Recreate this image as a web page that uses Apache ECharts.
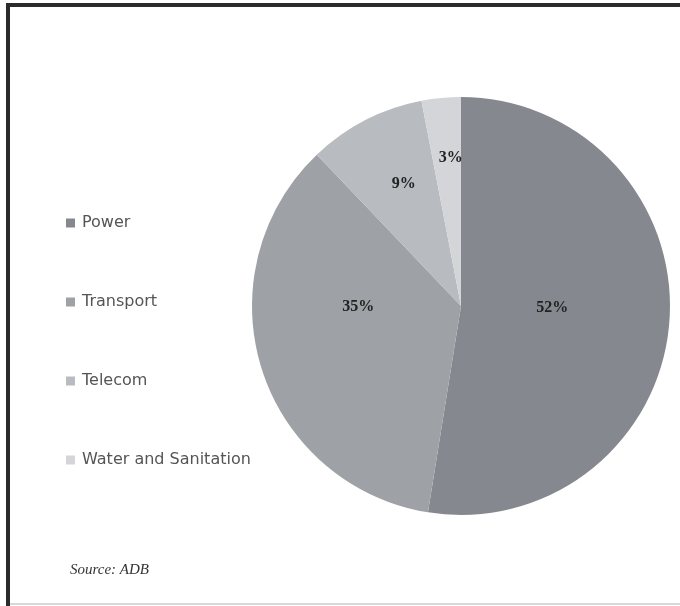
<!DOCTYPE html>
<html>
<head>
<meta charset="utf-8">
<script src="https://cdn.jsdelivr.net/npm/echarts@6/dist/echarts.min.js"></script>
<style>html,body{margin:0;padding:0;background:#fff}#c{width:680px;height:606px}</style>
</head>
<body>
<div id="c"></div>
<script>
const categories = ['Power', 'Transport', 'Telecom', 'Water and Sanitation'];
const shares = [52, 35, 9, 3];
const sliceColors = ['#85898f', '#9ea1a5', '#b8bbbf', '#d3d5d8'];
const labelOffsets = [[-16, -7], [0, -31], [-8, -27], [0, -41]];
const sourceNote = 'Source: ADB';

const chart = echarts.init(document.getElementById('c'));
chart.setOption({
  animation: false,
  backgroundColor: '#ffffff',
  legend: {
    orient: 'vertical',
    left: 61,
    top: 210,
    itemWidth: 9,
    itemHeight: 9,
    itemGap: 63,
    icon: 'rect',
    textStyle: { fontFamily: 'DejaVu Sans', fontSize: 16, color: '#555', padding: [0, 0, 0, 2] },
    data: categories
  },
  graphic: [
    { type: 'rect', shape: { x: 6, y: 3, width: 674, height: 4 }, style: { fill: '#2b2b2b' }, silent: true },
    { type: 'rect', shape: { x: 6, y: 3, width: 4, height: 603 }, style: { fill: '#2b2b2b' }, silent: true },
    { type: 'rect', shape: { x: 10, y: 603, width: 670, height: 2 }, style: { fill: '#d8d8d8' }, silent: true },
    { type: 'text', left: 70, top: 563, style: { text: sourceNote, font: 'italic 15px "Liberation Serif"', fill: '#333' } }
  ],
  series: [{
    type: 'pie',
    center: [461, 306],
    radius: 209,
    startAngle: 90,
    clockwise: true,
    label: {
      position: 'inside',
      formatter: '{c}%',
      fontFamily: 'Liberation Serif',
      fontWeight: 'bold',
      fontSize: 16,
      color: '#222'
    },
    labelLine: { show: false },
    itemStyle: { borderWidth: 0 },
    emphasis: { disabled: true },
    data: categories.map((name, i) => ({
      name,
      value: shares[i],
      itemStyle: { color: sliceColors[i] },
      label: { offset: labelOffsets[i] }
    }))
  }]
});
</script>
</body>
</html>
